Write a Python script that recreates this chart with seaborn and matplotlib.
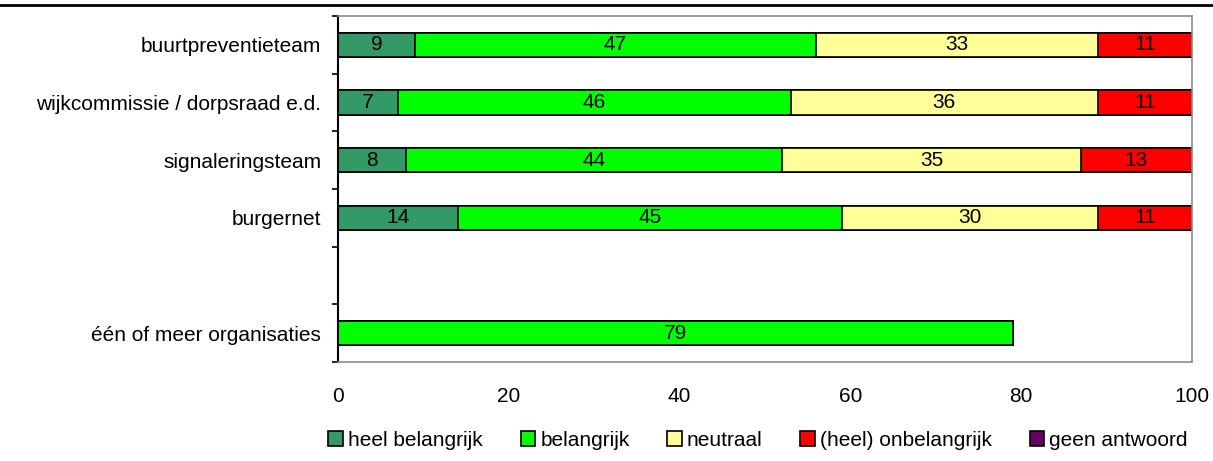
import pandas as pd
import matplotlib
matplotlib.use("Agg")
import matplotlib.pyplot as plt
import seaborn as sns
from matplotlib.lines import Line2D
from matplotlib.patches import Patch

# data (percentages)
categories = ["buurtpreventieteam", "wijkcommissie / dorpsraad e.d.",
              "signaleringsteam", "burgernet", "één of meer organisaties"]
series = ["heel belangrijk", "belangrijk", "neutraal", "(heel) onbelangrijk", "geen antwoord"]
heel_belangrijk = [9, 7, 8, 14, 0]
belangrijk = [47, 46, 44, 45, 79]
neutraal = [33, 36, 35, 30, 0]
onbelangrijk = [11, 11, 13, 11, 0]
geen_antwoord = [0, 0, 0, 0, 0]
colors = ["#339966", "#00FF00", "#FFFF99", "#FF0000", "#660066"]

# empty slot between burgernet and the last row
order = categories[:4] + [" "] + categories[4:]

df = pd.DataFrame({"cat": categories, "heel belangrijk": heel_belangrijk,
                   "belangrijk": belangrijk, "neutraal": neutraal,
                   "(heel) onbelangrijk": onbelangrijk, "geen antwoord": geen_antwoord})
cum = df[series].cumsum(axis=1)
cum["cat"] = df["cat"]

sns.set_style("white")
plt.rcParams["font.family"] = ["Liberation Sans", "DejaVu Sans"]
plt.rcParams["text.color"] = "black"
plt.rcParams["xtick.color"] = "black"
plt.rcParams["ytick.color"] = "black"

fig = plt.figure(figsize=(12.13, 4.61), dpi=100)
ax = fig.add_axes([338 / 1213, 99 / 461, 854 / 1213, 346 / 461])

# stacked bars: draw cumulative totals from the outside in
for s, c in reversed(list(zip(series, colors))):
    sns.barplot(data=cum, x=s, y="cat", order=order, color=c, orient="h",
                width=0.42, edgecolor="black", linewidth=1.2, saturation=1, ax=ax)

# value labels centred in each segment
for _, row in df.iterrows():
    yi = order.index(row["cat"])
    left = 0
    for s in series:
        v = row[s]
        if v > 0:
            ax.text(left + v / 2, yi, f"{v:g}", ha="center", va="center", fontsize=15)
        left += v

ax.set_xlim(0, 100)
ax.set_ylim(len(order) - 0.5, -0.5)
ax.set_xticks([0, 20, 40, 60, 80, 100])
ax.set_xlabel("")
ax.set_ylabel("")
ax.tick_params(axis="x", length=0, pad=18, labelsize=15)
ax.tick_params(axis="y", which="major", length=0, pad=12, labelsize=15)
ax.set_yticks([i - 0.5 for i in range(len(order) + 1)], minor=True)
ax.tick_params(axis="y", which="minor", left=True, length=4.5, width=1.2, direction="out", color="black")

for side in ["top", "right", "bottom"]:
    ax.spines[side].set_color("#8c8c8c")
    ax.spines[side].set_linewidth(1.2)
ax.spines["left"].set_color("black")
ax.spines["left"].set_linewidth(1.5)

handles = [Patch(facecolor=c, edgecolor="black", linewidth=1.2) for c in colors]
fig.legend(handles, series, loc="center", bbox_to_anchor=(0.625, 0.045), ncol=5,
           frameon=False, fontsize=15, handlelength=0.7, handleheight=0.7,
           handletextpad=0.25, columnspacing=1.8, borderpad=0)

# horizontal rule across the top of the figure
fig.add_artist(Line2D([0, 1], [1 - 5 / 461, 1 - 5 / 461], color="black", linewidth=2,
                      transform=fig.transFigure))

fig.savefig("out.png", dpi=100)
